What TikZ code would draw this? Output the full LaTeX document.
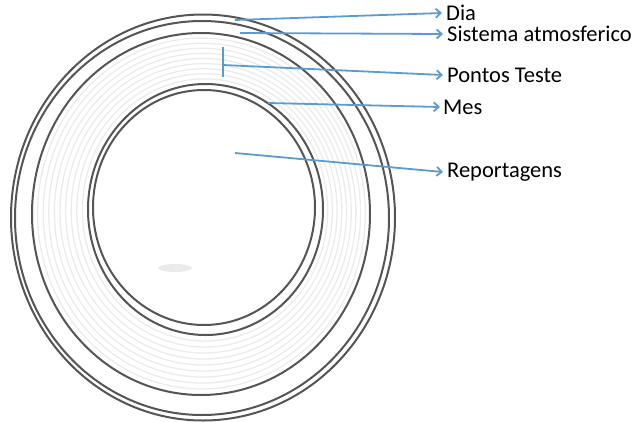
\documentclass[tikz,border=0pt]{standalone}
\usepackage{fontspec}
\setmainfont{Carlito}
\usetikzlibrary{arrows.meta}
\definecolor{ringdark}{HTML}{555555}
\definecolor{ringlight}{HTML}{EBEBEB}
\definecolor{arrowblue}{HTML}{5B9BD5}
\begin{document}
\begin{tikzpicture}[x=1pt,y=-1pt,
  darkring/.style={draw=ringdark,line width=2pt},
  lightring/.style={draw=ringlight,line width=1.3pt},
  pointer/.style={draw=arrowblue,line width=1.8pt,-{Straight Barb[length=5pt,width=9pt,line width=1.8pt]}},
  lbl/.style={anchor=west,inner sep=0pt,font=\fontsize{22.5}{22.5}\selectfont,text=black}]
\useasboundingbox (0,0) rectangle (635,421);
% light rings
\foreach \i in {1,...,9}{
  \pgfmathsetmacro\cx{201+(205.5-201)*\i/10}
  \pgfmathsetmacro\cy{214+(209.5-214)*\i/10}
  \pgfmathsetmacro\rx{169+(117.5-169)*\i/10}
  \pgfmathsetmacro\ry{181+(125.5-181)*\i/10}
  \draw[lightring] (\cx,\cy) ellipse [x radius=\rx, y radius=\ry];
}
% dark rings
\draw[darkring] (203,217.5) ellipse [x radius=192, y radius=203];
\draw[darkring] (202,218) ellipse [x radius=187, y radius=197];
\draw[darkring] (201,214) ellipse [x radius=169, y radius=181];
\draw[darkring] (205.5,209.5) ellipse [x radius=117.5, y radius=125.5];
\draw[darkring] (204,207.5) ellipse [x radius=111, y radius=117.5];
% small shadow
\fill[ringlight] (175,268) ellipse [x radius=17, y radius=4];
% labels
\node[lbl] (dia) at (446,13) {Dia};
\node[lbl] (sis) at (447,34) {Sistema atmosferico};
\node[lbl] (pon) at (447,75) {Pontos Teste};
\node[lbl] (mes) at (443,107) {Mes};
\node[lbl] (rep) at (447,172) {Reportagens};
% anchors
\coordinate (sdia) at (235,20);
\coordinate (ssis) at (240,33);
\coordinate (spon) at (223,65);
\coordinate (ptop) at (223,47);
\coordinate (pbot) at (223,77);
\coordinate (smes) at (268,103);
\coordinate (srep) at (235,153);
\draw[draw=arrowblue,line width=1.8pt] (ptop) -- (pbot);
\draw[pointer] (sdia) -- ([xshift=-4pt]dia.west);
\draw[pointer] (ssis) -- ([xshift=-4pt]sis.west);
\draw[pointer] (spon) -- ([xshift=-4pt]pon.west);
\draw[pointer] (smes) -- ([xshift=-3pt]mes.west);
\draw[pointer] (srep) -- ([xshift=-4pt]rep.west);
\end{tikzpicture}
\end{document}
